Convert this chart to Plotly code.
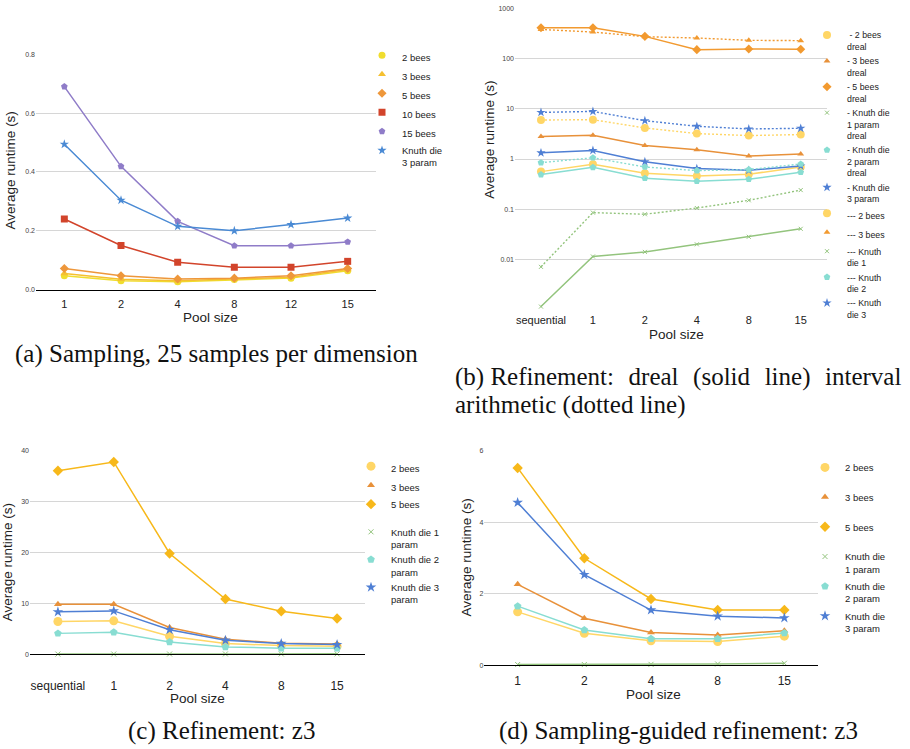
import plotly.graph_objects as go

W, H = 910, 749
SANS = "Liberation Sans, Arial, sans-serif"
SERIF = "Liberation Serif, Times New Roman, serif"

# ---------------- data ----------------
# (a) Sampling, 25 samples per dimension
pool_a = ["1", "2", "4", "8", "12", "15"]
a_bees2 = [0.047, 0.030, 0.027, 0.034, 0.039, 0.064]
a_bees3 = [0.055, 0.035, 0.030, 0.036, 0.042, 0.068]
a_bees5 = [0.072, 0.047, 0.036, 0.039, 0.047, 0.072]
a_bees10 = [0.240, 0.150, 0.093, 0.076, 0.076, 0.096]
a_bees15 = [0.690, 0.419, 0.232, 0.149, 0.149, 0.162]
a_knuth3 = [0.494, 0.304, 0.215, 0.200, 0.221, 0.243]
a_yticks = [0.0, 0.2, 0.4, 0.6, 0.8]
a_yticktext = ["0.0", "0.2", "0.4", "0.6", "0.8"]

# (b) Refinement: dreal (solid) vs interval arithmetic (dotted)
pool_b = ["sequential", "1", "2", "4", "8", "15"]
b_dreal_bees2 = [0.562, 0.785, 0.521, 0.461, 0.498, 0.695]
b_dreal_bees3 = [2.80, 2.98, 1.86, 1.53, 1.15, 1.26]
b_dreal_bees5 = [409, 409, 276, 150, 155, 153]
b_dreal_knuth1 = [0.00116, 0.0115, 0.0142, 0.0201, 0.0284, 0.0409]
b_dreal_knuth2 = [0.491, 0.685, 0.415, 0.362, 0.397, 0.546]
b_dreal_knuth3 = [1.33, 1.48, 0.886, 0.645, 0.597, 0.727]
b_ia_bees2 = [5.98, 6.07, 4.15, 3.21, 2.93, 3.07]
b_ia_bees3 = [379, 336, 272, 256, 230, 227]
b_ia_knuth1 = [0.00716, 0.0859, 0.0797, 0.106, 0.151, 0.241]
b_ia_knuth2 = [0.847, 1.06, 0.695, 0.589, 0.616, 0.797]
b_ia_knuth3 = [8.47, 8.86, 5.80, 4.48, 3.97, 4.09]
b_yticks = [0.01, 0.1, 1, 10, 100, 1000]
b_yticktext = ["0.01", "0.1", "1", "10", "100", "1000"]

# (c) Refinement: z3
pool_c = ["sequential", "1", "2", "4", "8", "15"]
c_bees2 = [6.43, 6.56, 3.51, 2.08, 1.69, 1.56]
c_bees3 = [9.81, 9.81, 5.26, 2.92, 2.14, 2.01]
c_bees5 = [36.06, 37.8, 19.8, 10.85, 8.45, 7.02]
c_knuth1 = [0.02, 0.03, 0.03, 0.04, 0.05, 0.06]
c_knuth2 = [4.09, 4.29, 2.40, 1.43, 1.17, 1.17]
c_knuth3 = [8.32, 8.51, 4.81, 2.73, 2.08, 1.88]
c_yticks = [0, 10, 20, 30, 40]

# (d) Sampling-guided refinement: z3
pool_d = ["1", "2", "4", "8", "15"]
d_bees2 = [1.49, 0.89, 0.68, 0.66, 0.81]
d_bees3 = [2.26, 1.31, 0.915, 0.84, 0.96]
d_bees5 = [5.52, 2.99, 1.85, 1.54, 1.54]
d_knuth1 = [0.015, 0.015, 0.02, 0.03, 0.05]
d_knuth2 = [1.65, 0.98, 0.74, 0.74, 0.90]
d_knuth3 = [4.55, 2.53, 1.54, 1.37, 1.32]
d_yticks = [0, 2, 4, 6]

# ---------------- styles ----------------
A_YEL, A_GOLD, A_ORG, A_RED, A_PUR, A_BLUE = "#f0dd2e", "#f5c030", "#ee973b", "#d2442b", "#8f7cc8", "#4a8ad4"
YEL, ORG, ORG5, GOLD, GREEN, TEAL, BLUE = "#ffd666", "#e8913a", "#f29a30", "#f7b81a", "#93c47d", "#88ddd2", "#4f7fd4"
DOT = "2px,2px"


def px_x(x):
    return x / W


def px_y(y):
    return 1 - y / H


fig = go.Figure()


def add_series(xname, yname, legend, cats, vals, name, color, symbol, size, dash="solid", group=None, lw=1.5):
    fig.add_trace(go.Scatter(
        x=cats, y=vals, mode="lines", xaxis=xname, yaxis=yname,
        line=dict(color=color, width=lw, dash=dash), showlegend=False, hoverinfo="skip"))
    mk = dict(color=color, symbol=symbol, size=size)
    if symbol == "x-thin":
        mk["line"] = dict(color=color, width=1)
    fig.add_trace(go.Scatter(
        x=cats, y=vals, mode="markers", xaxis=xname, yaxis=yname, name=name,
        marker=mk, legend=legend, cliponaxis=False,
        legendgroup=group if group else name))


# (a)
for name, vals, col, sym, sz in [
    ("2 bees", a_bees2, A_YEL, "circle", 7),
    ("3 bees", a_bees3, A_GOLD, "triangle-up", 7),
    ("5 bees", a_bees5, A_ORG, "diamond", 7),
    ("10 bees", a_bees10, A_RED, "square", 7),
    ("15 bees", a_bees15, A_PUR, "pentagon", 7),
    ("Knuth die<br>3 param", a_knuth3, A_BLUE, "star", 7),
]:
    add_series("x", "y", "legend", pool_a, vals, name, col, sym, sz, group="a")

# (b)
for name, vals, col, sym, sz, dash in [
    (" - 2 bees<br>dreal", b_dreal_bees2, YEL, "circle", 8, "solid"),
    ("- 3 bees<br>dreal", b_dreal_bees3, ORG, "triangle-up", 6, "solid"),
    ("- 5 bees<br>dreal", b_dreal_bees5, ORG5, "diamond", 7, "solid"),
    ("- Knuth die<br>1 param<br>dreal", b_dreal_knuth1, GREEN, "x-thin", 4, "solid"),
    ("- Knuth die<br>2 param<br>dreal", b_dreal_knuth2, TEAL, "pentagon", 7, "solid"),
    ("- Knuth die<br>3 param", b_dreal_knuth3, BLUE, "star", 7, "solid"),
    ("--- 2 bees", b_ia_bees2, YEL, "circle", 8, DOT),
    ("--- 3 bees", b_ia_bees3, ORG5, "triangle-up", 6, DOT),
    ("--- Knuth<br>die 1", b_ia_knuth1, GREEN, "x-thin", 4, DOT),
    ("--- Knuth<br>die 2", b_ia_knuth2, TEAL, "pentagon", 7, DOT),
    ("--- Knuth<br>die 3", b_ia_knuth3, BLUE, "star", 7, DOT),
]:
    add_series("x2", "y2", "legend2", pool_b, vals, name, col, sym, sz, dash, group="b",
               lw=1.4 if dash == DOT else 1.5)

# (c)
for name, vals, col, sym, sz in [
    ("2 bees", c_bees2, YEL, "circle", 9),
    ("3 bees", c_bees3, ORG, "triangle-up", 7),
    ("5 bees<br> ", c_bees5, GOLD, "diamond", 8),
    ("Knuth die 1<br>param", c_knuth1, GREEN, "x-thin", 5),
    ("Knuth die 2<br>param", c_knuth2, TEAL, "pentagon", 8),
    ("Knuth die 3<br>param", c_knuth3, BLUE, "star", 8),
]:
    add_series("x3", "y3", "legend3", pool_c, vals, name, col, sym, sz, group="c")

# (d)
for name, vals, col, sym, sz in [
    ("2 bees<br> ", d_bees2, YEL, "circle", 9),
    ("3 bees<br> ", d_bees3, ORG, "triangle-up", 7),
    ("5 bees<br> ", d_bees5, GOLD, "diamond", 8),
    ("Knuth die<br>1 param", d_knuth1, GREEN, "x-thin", 5),
    ("Knuth die<br>2 param", d_knuth2, TEAL, "pentagon", 8),
    ("Knuth die<br>3 param", d_knuth3, BLUE, "star", 8),
]:
    add_series("x4", "y4", "legend4", pool_d, vals, name, col, sym, sz, group=None)


def xaxis(x0, x1, anchor, ncat, fs, standoff, showline):
    return dict(domain=[px_x(x0), px_x(x1)], anchor=anchor, type="category",
                range=[-0.5, ncat - 0.5], showgrid=False, zeroline=False,
                showline=showline, linecolor="#000000", linewidth=1, ticks="",
                tickfont=dict(family=SANS, size=fs, color="#222222"),
                ticklabelstandoff=standoff, fixedrange=True)


def yaxis(ytop, ybot, anchor, rng, tickvals, ticktext=None, log=False):
    d = dict(domain=[px_y(ybot), px_y(ytop)], anchor=anchor, range=rng,
             tickmode="array", tickvals=tickvals,
             showgrid=True, gridcolor="#d6d6d6", gridwidth=1, zeroline=False,
             showline=False, ticks="", tickfont=dict(family=SANS, size=7, color="#444444"),
             fixedrange=True)
    if ticktext is not None:
        d["ticktext"] = ticktext
    if log:
        d["type"] = "log"
    return d


def legend_cfg(x, y, fs, gap=0):
    return dict(x=px_x(x), y=px_y(y), xref="paper", yref="paper", xanchor="left", yanchor="top",
                bgcolor="rgba(0,0,0,0)", borderwidth=0, valign="top",
                font=dict(family=SANS, size=fs, color="#222222"), tracegroupgap=gap,
                itemclick=False, itemdoubleclick=False)


annotations = []


def text(x, y, s, size, family=SANS, angle=0, xanchor="center", color="#222222"):
    annotations.append(dict(x=px_x(x), y=px_y(y), xref="paper", yref="paper", text=s,
                            showarrow=False, textangle=angle, xanchor=xanchor, yanchor="middle",
                            font=dict(family=family, size=size, color=color)))


# axis titles
text(210, 316.7, "Pool size", 13.5)
text(676.7, 333.3, "Pool size", 13.5)
text(197.5, 701, "Pool size", 13.5)
text(653.3, 697, "Pool size", 13.5)
text(10.7, 168.3, "Average runtime (s)", 13.5, angle=-90)
text(489.3, 136.7, "Average runtime (s)", 13.5, angle=-90)
text(7.5, 564, "Average runtime (s)", 13.5, angle=-90)
text(466.7, 559, "Average runtime (s)", 13.5, angle=-90)

# captions
SP = "\u00a0\u200a "
text(12.7, 353, "(a) Sampling, 25 samples per dimension", 25, SERIF, xanchor="left", color="#111111")
text(452.7, 376.7, "(b) Refinement:" + SP + "dreal" + SP + "(solid" + SP + "line)" + SP + "interval",
     25, SERIF, xanchor="left", color="#111111")
text(452.7, 405, "arithmetic (dotted line)", 25, SERIF, xanchor="left", color="#111111")
text(221, 734, "(c) Refinement: z3", 25, SERIF, color="#111111")
text(678, 734, "(d) Sampling-guided refinement: z3", 25, SERIF, color="#111111")

fig.update_layout(
    width=W, height=H, margin=dict(l=0, r=0, t=0, b=0),
    paper_bgcolor="white", plot_bgcolor="white",
    font=dict(family=SANS, color="#222222"),
    xaxis=xaxis(36, 376, "y", len(pool_a), 11, 4, True),
    yaxis=yaxis(50.7, 288.3, "x", [0, 0.8], a_yticks, a_yticktext),
    xaxis2=xaxis(515, 826.7, "y2", len(pool_b), 11, 2, False),
    yaxis2=yaxis(4.3, 308.7, "x2", [-3, 3], b_yticks, b_yticktext, log=True),
    xaxis3=xaxis(30, 365, "y3", len(pool_c), 12, 20, True),
    yaxis3=yaxis(451, 656.3, "x3", [0, 40], c_yticks),
    xaxis4=xaxis(484.3, 817.7, "y4", len(pool_d), 12, 5, True),
    yaxis4=yaxis(451, 667.3, "x4", [0, 6], d_yticks),
    legend=legend_cfg(362, 39, 9.5),
    legend2=legend_cfg(807, 19, 8.8),
    legend3=legend_cfg(351, 453.7, 9.5),
    legend4=legend_cfg(805, 455, 9.5, gap=2.0),
    annotations=annotations,
    showlegend=True,
)

fig.write_html(
    "out.html",
    config={"displayModeBar": False},
    post_script="document.body.style.margin='0';document.body.style.padding='0';"
                "document.documentElement.style.overflow='hidden';",
)
